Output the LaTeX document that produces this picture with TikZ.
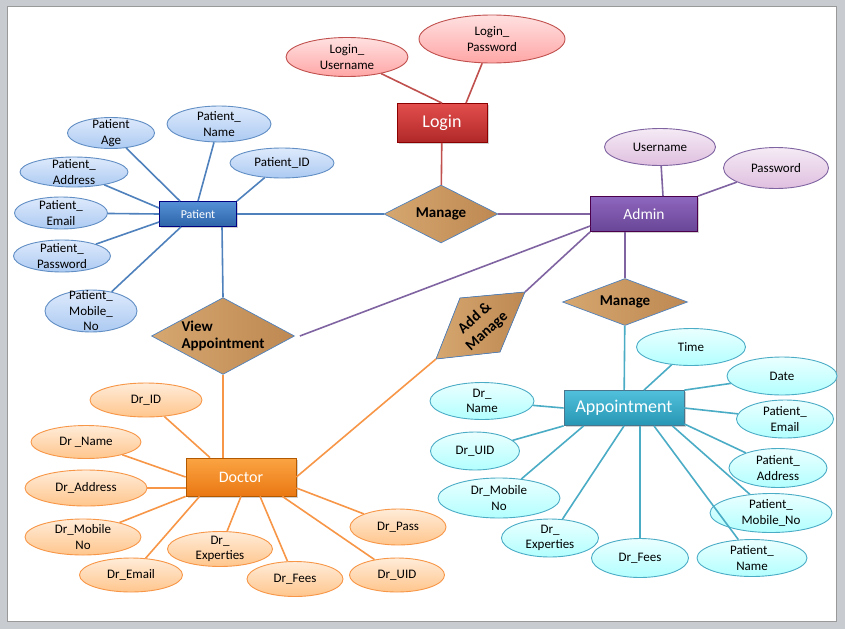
\documentclass[tikz,border=0pt]{standalone}
\usepackage{fontspec}
\setmainfont{Carlito}
\usepackage{xcolor}
\usetikzlibrary{shapes.geometric, shadows}

\definecolor{pagegray}{RGB}{200,204,209}
\definecolor{redline}{RGB}{192,80,77}
\definecolor{blueline}{RGB}{79,129,189}
\definecolor{purpleline}{RGB}{128,100,162}
\definecolor{orangeline}{RGB}{247,150,70}
\definecolor{tealline}{RGB}{75,172,198}
\definecolor{woodlight}{RGB}{214,167,112}
\definecolor{wooddark}{RGB}{190,136,82}
\definecolor{bluetop}{RGB}{222,234,252}
\definecolor{bluebottom}{RGB}{172,202,242}

\begin{document}
\begin{tikzpicture}[
    x=1pt, y=-1pt,
    entity/.style={rectangle, draw, line width=0.8pt, text=white, inner sep=0pt,
        drop shadow={shadow xshift=1.5pt, shadow yshift=-1.5pt, opacity=0.35}},
    attrib/.style={ellipse, draw, line width=0.9pt, inner xsep=-2pt, inner ysep=-8pt,
        align=center, font=\fontsize{13}{15.5}\selectfont},
    relation/.style={diamond, draw=blueline, line width=0.7pt, left color=woodlight,
        right color=wooddark, inner xsep=-12pt, inner ysep=-6pt,
        font=\bfseries\fontsize{15}{17}\selectfont},
    redattr/.style={attrib, draw=redline, top color=red!12, bottom color=red!35!white},
    blueattr/.style={attrib, draw=blueline!90, top color=bluetop, bottom color=bluebottom},
    purpleattr/.style={attrib, draw=purpleline, top color=violet!8, bottom color=violet!25!white},
    orangeattr/.style={attrib, draw=orangeline, top color=orange!15, bottom color=orange!45!white},
    tealattr/.style={attrib, draw=tealline, top color=cyan!8, bottom color=cyan!30!white},
    link/.style={line width=1.6pt}
]

% Page
\useasboundingbox (0,0) rectangle (845,629);
\fill[pagegray] (0,0) rectangle (845,629);
\filldraw[fill=white, draw=gray!80, line width=1pt] (7,6) rectangle (836,621);

% Login entity
\node[entity, draw=red!55!black, top color={rgb,255:red,226;green,78;blue,76}, bottom color={rgb,255:red,176;green,40;blue,40},
    minimum width=90pt, minimum height=39pt, font=\fontsize{18}{21}\selectfont] (login) at (442,123) {Login};
\node[redattr, minimum width=122pt, minimum height=39pt] (lgnuser) at (347,57) {Login\_\\Username};
\node[redattr, minimum width=146pt, minimum height=48pt] (lgnpass) at (492,39) {Login\_\\Password};

% Admin entity
\node[entity, draw=violet!60!black, top color={rgb,255:red,142;green,102;blue,190}, bottom color={rgb,255:red,104;green,70;blue,150},
    minimum width=107pt, minimum height=35pt, font=\fontsize{15.5}{18}\selectfont] (admin) at (644,214) {Admin};
\node[purpleattr, minimum width=111pt, minimum height=37pt] (admuser) at (660,147) {Username};
\node[purpleattr, minimum width=105pt, minimum height=41pt] (admpass) at (776,168) {Password};

% Patient entity
\node[entity, draw=blue!50!black, top color={rgb,255:red,84;green,144;blue,214}, bottom color={rgb,255:red,46;green,100;blue,168},
    minimum width=77pt, minimum height=25pt, font=\fontsize{12}{14}\selectfont] (patient) at (198,214) {Patient};
\node[blueattr, minimum width=104pt, minimum height=36pt] (pname) at (219,124) {Patient\_\\Name};
\node[blueattr, minimum width=87pt, minimum height=31pt] (page) at (111,133) {Patient\\Age};
\node[blueattr, minimum width=104pt, minimum height=30pt] (pid) at (282,163) {Patient\_ID};
\node[blueattr, minimum width=108pt, minimum height=30pt] (paddr) at (74,172) {Patient\_\\Address};
\node[blueattr, minimum width=93pt, minimum height=32pt] (pmail) at (61,213) {Patient\_\\Email};
\node[blueattr, minimum width=97pt, minimum height=32pt] (ppass) at (62,256) {Patient\_\\Password};
\node[blueattr, minimum width=92pt, minimum height=42pt] (pmob) at (91,311) {Patient\_\\Mobile\_\\No};

% Relationships
\node[relation, minimum width=114pt, minimum height=58pt] (mng1) at (441,214) {Manage};
\node[relation, minimum width=143pt, minimum height=66pt, align=left] (viewapp) at (223,336) {View\\Appointment};
\node[relation, minimum width=125pt, minimum height=47pt] (mng2) at (625,302) {Manage};

% Add & Manage (tilted)
\coordinate (amtl) at (460,298);
\coordinate (amtr) at (525,292);
\coordinate (ambr) at (500,352);
\coordinate (ambl) at (436,359);
\filldraw[draw=blueline, line width=0.7pt, left color=woodlight, right color=wooddark]
    (amtl) -- (amtr) -- (ambr) -- (ambl) -- cycle;
\node[rotate=42, align=center, font=\bfseries\fontsize{15}{18}\selectfont] (addmng) at (481,325) {Add \&\\Manage};

% Doctor entity
\node[entity, draw=orange!70!black, top color={rgb,255:red,251;green,164;blue,67}, bottom color={rgb,255:red,234;green,120;blue,18},
    minimum width=110pt, minimum height=38pt, font=\fontsize{16}{19}\selectfont] (doctor) at (241,477) {Doctor};
\node[orangeattr, minimum width=112pt, minimum height=34pt] (did) at (146,400) {Dr\_ID};
\node[orangeattr, minimum width=110pt, minimum height=33pt] (dname) at (86,442) {Dr \_Name};
\node[orangeattr, minimum width=122pt, minimum height=36pt] (daddr) at (86,488) {Dr\_Address};
\node[orangeattr, minimum width=116pt, minimum height=36pt] (dmob) at (83,537) {Dr\_Mobile\\No};
\node[orangeattr, minimum width=103pt, minimum height=34pt] (dmail) at (131,575) {Dr\_Email};
\node[orangeattr, minimum width=105pt, minimum height=35pt] (dexp) at (220,549) {Dr\_\\Experties};
\node[orangeattr, minimum width=96pt, minimum height=35pt] (dfees) at (295,579) {Dr\_Fees};
\node[orangeattr, minimum width=95pt, minimum height=34pt] (duid) at (397,575) {Dr\_UID};
\node[orangeattr, minimum width=96pt, minimum height=36pt] (dpass) at (398,527) {Dr\_Pass};

% Appointment entity
\node[entity, draw=cyan!50!black, top color={rgb,255:red,80;green,192;blue,220}, bottom color={rgb,255:red,38;green,150;blue,180},
    minimum width=120pt, minimum height=35pt, font=\fontsize{18}{21}\selectfont] (app) at (624,408) {Appointment};
\node[tealattr, minimum width=109pt, minimum height=37pt] (atime) at (691,347) {Time};
\node[tealattr, minimum width=110pt, minimum height=38pt] (adate) at (782,376) {Date};
\node[tealattr, minimum width=97pt, minimum height=38pt] (apmail) at (785,419) {Patient\_\\Email};
\node[tealattr, minimum width=98pt, minimum height=39pt] (apaddr) at (778,468) {Patient\_\\Address};
\node[tealattr, minimum width=122pt, minimum height=39pt] (apmob) at (771,513) {Patient\_\\Mobile\_No};
\node[tealattr, minimum width=110pt, minimum height=37pt] (apname) at (752,558) {Patient\_\\Name};
\node[tealattr, minimum width=97pt, minimum height=39pt] (adfees) at (640,558) {Dr\_Fees};
\node[tealattr, minimum width=97pt, minimum height=38pt] (adexp) at (550,538) {Dr\_\\Experties};
\node[tealattr, minimum width=122pt, minimum height=40pt] (admob) at (499,498) {Dr\_Mobile\\No};
\node[tealattr, minimum width=89pt, minimum height=38pt] (aduid) at (475,451) {Dr\_UID};
\node[tealattr, minimum width=104pt, minimum height=37pt] (adname) at (482,401) {Dr\_\\Name};

% Login links
\draw[link, redline] (lgnuser) -- (login.north);
\draw[link, redline] (lgnpass) -- ([xshift=24pt]login.north);
\draw[link, redline] (login) -- (mng1);

% Admin links
\draw[link, purpleline] (admuser) -- ([xshift=19pt]admin.north);
\draw[link, purpleline] (admpass) -- (admin.north east);
\draw[link, purpleline] (mng1) -- (admin);
\draw[link, purpleline] ([xshift=5pt]viewapp.east) -- ([yshift=-12pt]admin.west);
\draw[link, purpleline] (amtr) -- (admin.south west);
\draw[link, purpleline] (admin.south -| mng2) -- (mng2);

% Patient links
\draw[link, blueline] (patient) -- (mng1);
\draw[link, blueline] (pname) -- (patient.north);
\draw[link, blueline] (page) -- ([xshift=-18pt]patient.north);
\draw[link, blueline] (pid) -- (patient.north east);
\draw[link, blueline] (paddr) -- ([yshift=6pt]patient.west);
\draw[link, blueline] (pmail) -- (patient.west);
\draw[link, blueline] (ppass) -- ([yshift=-8pt]patient.west);
\draw[link, blueline] (pmob) -- ([xshift=-17pt]patient.south);
\draw[link, blueline] ([xshift=24pt]patient.south) -- (viewapp.north);

% Doctor links
\draw[link, orangeline] (viewapp.south) -- ([xshift=-18pt]doctor.north);
\draw[link, orangeline] (ambl) -- (doctor.east);
\draw[link, orangeline] (did) -- ([xshift=-31pt]doctor.north);
\draw[link, orangeline] (dname) -- (doctor.west);
\draw[link, orangeline] (daddr) -- ([yshift=-11pt]doctor.west);
\draw[link, orangeline] (dmob) -- (doctor.south west);
\draw[link, orangeline] (dmail) -- ([xshift=14pt]doctor.south west);
\draw[link, orangeline] (dexp) -- (doctor.south);
\draw[link, orangeline] (dfees) -- ([xshift=19pt]doctor.south);
\draw[link, orangeline] (duid) -- ([xshift=-14pt]doctor.south east);
\draw[link, orangeline] (dpass) -- ([yshift=-11pt]doctor.east);

% Appointment links
\draw[link, tealline] (mng2) -- (app);
\draw[link, tealline] (atime) -- ([xshift=20pt]app.north);
\draw[link, tealline] (adate) -- (app.north east);
\draw[link, tealline] (apmail) -- (app.east);
\draw[link, tealline] (apaddr) -- ([yshift=-16pt]app.east);
\draw[link, tealline] (apmob) -- ([xshift=-12pt]app.south east);
\draw[link, tealline] (apname) -- ([xshift=30pt]app.south);
\draw[link, tealline] (adfees) -- ([xshift=16pt]app.south);
\draw[link, tealline] (adexp) -- (app.south);
\draw[link, tealline] (admob) -- ([xshift=20pt]app.south west);
\draw[link, tealline] (aduid) -- (app.south west);
\draw[link, tealline] (adname) -- (app.west);

\end{tikzpicture}
\end{document}
